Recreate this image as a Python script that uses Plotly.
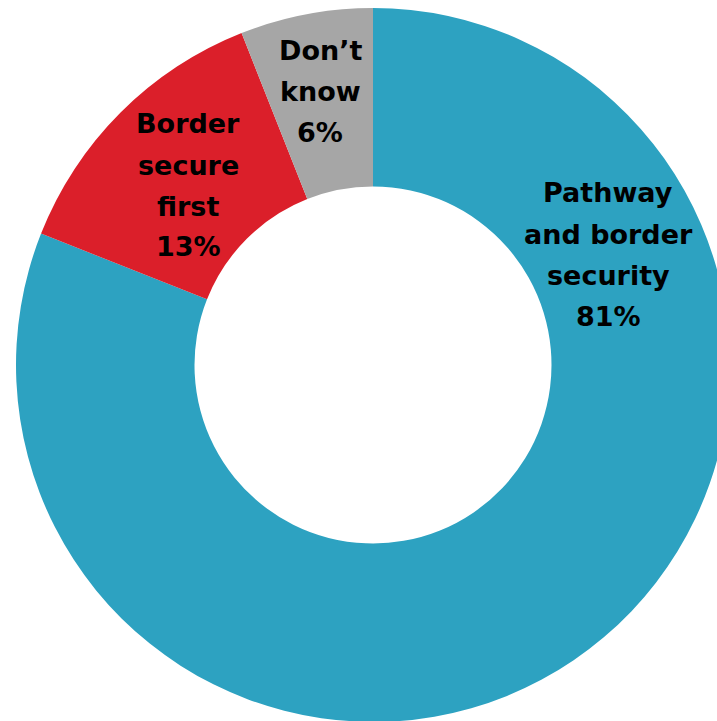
import plotly.graph_objects as go

# ---- data ----
labels = ["Pathway and border security", "Border secure first", "Don’t know"]
label_lines = [["Pathway", "and border", "security"], ["Border", "secure", "first"], ["Don’t", "know"]]
values = [81, 13, 6]
colors = ["#2DA2C1", "#DB1F2A", "#A6A6A6"]

# ---- layout config (pixels) ----
W, H = 730, 722
L, T = 16, 8
PW, PH = W - L, H - T
label_centers = [(608, 193), (188, 124), (320, 50)]  # first-line centre in px
line_gap = 41

fig = go.Figure(go.Pie(
    labels=labels, values=values, hole=0.5, sort=False, direction="clockwise",
    rotation=0, marker=dict(colors=colors, line=dict(width=0)),
    textinfo="none", hoverinfo="label+percent", showlegend=False,
))

ann = []
for (cx, cy), lines, v in zip(label_centers, label_lines, values):
    for i, txt in enumerate(lines + [f"{v}%"]):
        py = cy + i * line_gap
        ann.append(dict(
            x=(cx - L) / PW, y=1 - (py - T) / PH, xref="paper", yref="paper",
            text=txt, showarrow=False, xanchor="center", yanchor="middle",
            font=dict(family="DejaVu Sans", size=27, color="#000000", weight="bold"),
        ))

fig.update_layout(
    width=W, height=H, autosize=False,
    margin=dict(l=L, r=0, t=T, b=0, pad=0),
    paper_bgcolor="white", plot_bgcolor="white",
    annotations=ann,
)

fig.write_html(
    "out.html",
    config={"displayModeBar": False},
    post_script="document.body.style.margin='0';document.body.style.overflow='hidden';document.documentElement.style.overflow='hidden';",
)
